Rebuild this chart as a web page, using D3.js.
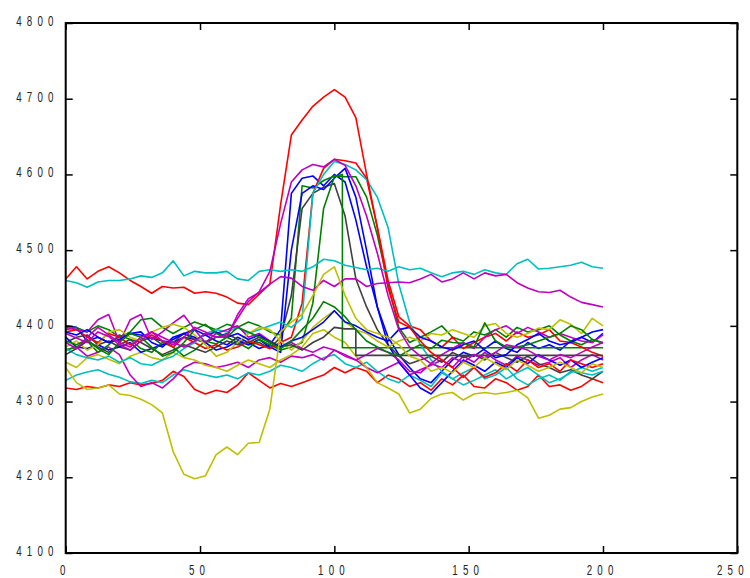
<!DOCTYPE html>
<html><head><meta charset="utf-8">
<script src="https://cdn.jsdelivr.net/npm/d3@7"></script>
<style>body{margin:0;background:#fff}svg{display:block}</style>
</head><body>
<script>
// ---- data ----
const xs = [0,4,8,12,16,20,24,28,32,36,40,44,48,52,56,60,64,68,72,76,80,84,88,92,96,100,104,108,112,116,120,124,128,132,136,140,144,148,152,156,160,164,168,172,176,180,184,188,192,196,200];
const xsGVert = [0,4,8,12,16,20,24,28,32,36,40,44,48,52,56,60,64,68,72,76,80,84,88,92,96,100,103,103,200];
const xsKStep = [0,4,8,12,16,20,24,28,32,36,40,44,48,52,56,60,64,68,72,76,80,84,88,92,96,100,104,108,108,200];
const xTicks = [0,50,100,150,200,250];
const yTicks = [4100,4200,4300,4400,4500,4600,4700,4800];

const bA = [4400,4398,4380,4385,4378,4386,4390,4388,4384,4380,4378,4385,4382,4388,4380,4375,4385,4378,4370,4375,4395,4575,4595,4598,4585,4600,4590,4540,4478,4425,4385,4362,4345,4330,4325,4340,4355,4365,4360,4370,4380,4370,4365,4378,4370,4375,4368,4380,4385,4378,4390];
const gEarly = [4395,4398,4392,4400,4395,4385,4392,4408,4410,4398,4390,4398,4405,4400,4395,4402,4398,4405,4400,4392,4388,4410,4585,4582,4592,4598,4597,4597,4570,4520,4455,4398,4378,4385,4392,4400,4385,4380,4392,4388,4395,4385,4398,4392,4395,4400,4388,4380,4375,4382,4378];
const rLow = [4318,4316,4320,4318,4322,4320,4325,4322,4324,4328,4340,4333,4316,4310,4315,4312,4322,4338,4328,4318,4324,4320,4325,4330,4335,4345,4338,4345,4340,4325,4335,4330,4320,4325,4315,4330,4322,4335,4320,4318,4330,4325,4315,4320,4335,4320,4322,4315,4320,4330,4325];
const cLow = [4328,4335,4339,4342,4336,4332,4326,4324,4328,4325,4335,4342,4338,4335,4332,4335,4330,4338,4335,4340,4348,4345,4340,4350,4358,4362,4350,4345,4352,4340,4330,4325,4335,4328,4320,4338,4330,4322,4328,4335,4342,4330,4338,4345,4335,4325,4330,4338,4345,4340,4345];
const mLow = [4368,4372,4360,4365,4372,4362,4335,4320,4325,4318,4330,4345,4352,4350,4345,4348,4352,4345,4355,4358,4352,4360,4358,4362,4355,4368,4362,4355,4345,4338,4345,4352,4335,4342,4348,4355,4345,4360,4352,4365,4355,4348,4360,4355,4348,4352,4358,4345,4355,4362,4355];
const yLow2 = [4352,4345,4358,4362,4356,4350,4360,4365,4358,4355,4365,4358,4355,4348,4345,4340,4348,4355,4350,4345,4355,4362,4372,4390,4395,4385,4378,4360,4345,4325,4318,4310,4285,4290,4304,4310,4312,4302,4310,4312,4310,4312,4315,4305,4278,4282,4290,4292,4300,4306,4310];
const kPeak = [4378,4385,4388,4375,4380,4372,4368,4380,4385,4375,4378,4390,4382,4378,4385,4390,4382,4375,4378,4370,4385,4440,4555,4575,4583,4588,4545,4462,4425,4395,4375,4360,4350,4355,4360,4352,4365,4358,4362,4355,4365,4358,4352,4360,4350,4345,4338,4342,4335,4330,4340];
const bB = [4385,4372,4370,4375,4368,4372,4378,4365,4370,4375,4382,4390,4385,4378,4368,4372,4380,4375,4382,4372,4365,4500,4575,4585,4580,4595,4608,4570,4500,4425,4375,4352,4335,4318,4310,4325,4340,4355,4348,4340,4352,4345,4358,4350,4362,4355,4348,4355,4345,4352,4358];
const gVert = [4368,4372,4380,4365,4375,4388,4382,4370,4365,4378,4372,4360,4368,4380,4376,4385,4378,4370,4382,4375,4368,4372,4378,4430,4555,4597,4600,4371,4371];
const r2 = [4392,4395,4385,4378,4390,4385,4375,4382,4388,4380,4372,4385,4378,4370,4375,4368,4372,4380,4375,4370,4378,4385,4430,4575,4608,4620,4618,4615,4595,4530,4460,4412,4400,4395,4380,4372,4385,4370,4378,4385,4390,4380,4392,4385,4388,4395,4380,4378,4372,4365,4360];
const cPeak = [4370,4362,4358,4355,4360,4352,4358,4350,4348,4355,4360,4370,4378,4390,4395,4392,4398,4390,4395,4400,4405,4398,4410,4575,4600,4617,4613,4606,4593,4570,4530,4455,4405,4375,4355,4340,4330,4338,4345,4330,4335,4345,4330,4322,4330,4335,4328,4340,4338,4335,4340];
const mMid = [4398,4395,4392,4408,4415,4378,4408,4415,4382,4392,4404,4414,4395,4378,4390,4395,4400,4385,4390,4380,4372,4378,4370,4365,4372,4368,4360,4355,4362,4370,4365,4355,4340,4338,4350,4362,4370,4378,4370,4385,4395,4400,4390,4398,4392,4385,4390,4385,4380,4378,4388];
const yHigh = [4372,4380,4368,4375,4392,4395,4385,4380,4392,4398,4402,4398,4388,4375,4360,4365,4378,4390,4398,4395,4380,4368,4380,4398,4410,4420,4405,4395,4390,4380,4372,4380,4385,4380,4390,4388,4395,4390,4385,4400,4403,4390,4385,4390,4397,4395,4408,4402,4390,4410,4400];
const kStep = [4362,4370,4380,4372,4365,4375,4382,4378,4370,4362,4368,4375,4370,4365,4372,4380,4375,4378,4385,4380,4372,4375,4368,4378,4385,4398,4396,4396,4361,4361];
const bBump = [4392,4388,4395,4385,4378,4382,4390,4392,4378,4372,4385,4390,4395,4388,4392,4385,4390,4382,4388,4378,4372,4380,4385,4395,4405,4420,4405,4400,4392,4385,4380,4395,4398,4385,4380,4372,4368,4375,4380,4368,4358,4362,4375,4382,4390,4380,4375,4378,4385,4392,4395];
const gBump = [4380,4375,4382,4370,4362,4378,4390,4385,4372,4360,4365,4378,4395,4402,4390,4385,4398,4392,4385,4378,4370,4380,4395,4410,4432,4425,4412,4395,4380,4372,4365,4360,4368,4375,4370,4381,4378,4377,4372,4404,4380,4372,4372,4375,4380,4385,4390,4400,4395,4382,4377];
const rTall = [4462,4478,4462,4472,4478,4470,4460,4452,4443,4452,4450,4451,4443,4445,4443,4438,4430,4428,4442,4455,4560,4652,4672,4690,4702,4712,4702,4675,4600,4530,4450,4405,4398,4380,4365,4355,4345,4332,4345,4332,4338,4350,4340,4355,4345,4350,4340,4355,4350,4345,4350];
const cTop = [4460,4457,4451,4458,4460,4460,4462,4466,4464,4470,4486,4466,4472,4470,4470,4472,4462,4460,4472,4474,4472,4474,4472,4478,4488,4486,4480,4477,4474,4476,4472,4478,4474,4476,4470,4465,4470,4472,4468,4474,4470,4468,4482,4488,4475,4476,4478,4480,4484,4478,4476];
const mPeak = [4378,4370,4385,4398,4388,4378,4372,4385,4392,4380,4375,4385,4398,4392,4385,4388,4410,4432,4445,4472,4535,4590,4606,4613,4610,4620,4612,4585,4545,4496,4440,4395,4372,4360,4350,4345,4358,4352,4362,4358,4365,4375,4372,4368,4360,4355,4362,4358,4365,4372,4378];
const mStep = [4390,4384,4378,4392,4386,4375,4368,4380,4392,4385,4378,4372,4380,4390,4385,4385,4415,4436,4444,4455,4465,4463,4452,4447,4460,4452,4462,4462,4452,4456,4457,4458,4457,4462,4468,4458,4462,4470,4462,4470,4466,4468,4457,4450,4445,4444,4447,4438,4431,4428,4425];
const yDip = [4345,4325,4316,4318,4322,4310,4308,4303,4296,4285,4234,4204,4198,4202,4230,4240,4230,4245,4246,4290,4392,4405,4415,4440,4468,4478,4440,4410,4395,4390,4385,4375,4360,4355,4340,4345,4338,4352,4345,4358,4350,4342,4355,4348,4340,4345,4352,4345,4338,4350,4345];

const C = {b:'#0000ff', g:'#008000', r:'#ff0000', c:'#00bfbf', m:'#bf00bf', y:'#bfbf00', k:'#404040'};
const series = [
  {x: xs, v: bA, c: C.b}, {x: xs, v: gEarly, c: C.g}, {x: xs, v: rLow, c: C.r},
  {x: xs, v: cLow, c: C.c}, {x: xs, v: mLow, c: C.m}, {x: xs, v: yLow2, c: C.y},
  {x: xs, v: kPeak, c: C.k}, {x: xs, v: bB, c: C.b}, {x: xsGVert, v: gVert, c: C.g},
  {x: xs, v: r2, c: C.r}, {x: xs, v: cPeak, c: C.c}, {x: xs, v: mMid, c: C.m},
  {x: xs, v: yHigh, c: C.y}, {x: xsKStep, v: kStep, c: C.k}, {x: xs, v: bBump, c: C.b},
  {x: xs, v: gBump, c: C.g}, {x: xs, v: rTall, c: C.r}, {x: xs, v: cTop, c: C.c},
  {x: xs, v: mPeak, c: C.m}, {x: xs, v: mStep, c: C.m}, {x: xs, v: yDip, c: C.y}
];

// ---- chart ----
const W = 750, H = 578;
const L = 65.7, R = 737.3, T = 23, B = 553;
const x = d3.scaleLinear().domain([0, 250]).range([L, R]);
const y = d3.scaleLinear().domain([4100, 4800]).range([B, T]);

const svg = d3.select('body').append('svg').attr('width', W).attr('height', H);

const line = d3.line().x(d => x(d[0])).y(d => y(d[1]));
svg.append('g').selectAll('path').data(series).join('path')
  .attr('d', s => line(d3.zip(s.x, s.v)))
  .attr('fill', 'none').attr('stroke', s => s.c)
  .attr('stroke-width', 1.6).attr('stroke-linejoin', 'round');

function styleAxis(g) {
  g.select('.domain').remove();
  g.selectAll('.tick line').attr('stroke', '#000').attr('stroke-width', 1.5);
  g.selectAll('.tick text').remove();
}
svg.append('g').attr('transform', `translate(0,${B})`)
  .call(d3.axisBottom(x).tickValues(xTicks).tickSize(-7).tickFormat('')).call(styleAxis);
svg.append('g').attr('transform', `translate(0,${T})`)
  .call(d3.axisTop(x).tickValues(xTicks).tickSize(-7).tickFormat('')).call(styleAxis);
svg.append('g').attr('transform', `translate(${L},0)`)
  .call(d3.axisLeft(y).tickValues(yTicks).tickSize(-7).tickFormat('')).call(styleAxis);
svg.append('g').attr('transform', `translate(${R},0)`)
  .call(d3.axisRight(y).tickValues(yTicks).tickSize(-7).tickFormat('')).call(styleAxis);

// condensed, letter-spaced tick labels
const labelStyle = sel => sel
  .attr('fill', '#222')
  .style('font-family', '"Liberation Sans",Arial,sans-serif')
  .style('font-size', '15px')
  .style('letter-spacing', '8px');

svg.append('g').selectAll('text').data(yTicks).join('text')
  .attr('text-anchor', 'end')
  .attr('transform', d => `translate(58.7,${y(d) + 3}) scale(0.65,1)`)
  .text(d => d).call(labelStyle);

svg.append('g').selectAll('text').data(xTicks).join('text')
  .attr('text-anchor', 'middle')
  .attr('transform', (d, i) => `translate(${x(d) - 0.4 - (i === xTicks.length - 1 ? 4 : 0)},574.5) scale(0.65,1)`)
  .text(d => d).call(labelStyle);

svg.append('rect').attr('x', L).attr('y', T).attr('width', R - L).attr('height', B - T)
  .attr('fill', 'none').attr('stroke', '#000').attr('stroke-width', 2);
</script>
</body></html>
